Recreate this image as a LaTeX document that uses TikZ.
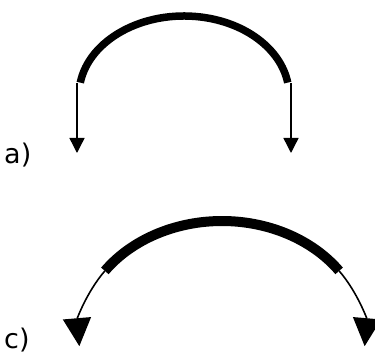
\documentclass[tikz,border=0pt]{standalone}
\usepackage{fontspec}
\setmainfont{DejaVu Sans}
\usetikzlibrary{arrows.meta,calc}
\newcommand{\lblfont}{\fontsize{27pt}{27pt}\selectfont}
\begin{document}
\begin{tikzpicture}[x=1pt,y=1pt,
  beam/.style={line width=7.5pt,line cap=butt},
  beamc/.style={line width=10pt,line cap=butt},
  thinarrow/.style={line width=1.4pt,-{Triangle[width=15pt,length=15pt]}},
  thinarrowc/.style={line width=1.6pt,-{Triangle[width=28pt,length=28pt]}},
  lbl/.style={anchor=base west,inner sep=0pt}]
\path[use as bounding box,fill=white] (0,0) rectangle (375,356);
% (a)
\coordinate (ac) at (184,261);
\draw[beam] ($(ac)+(171:105 and 79)$) coordinate (aL) arc[start angle=171,end angle=9,x radius=105,y radius=79] coordinate (aR);
\coordinate (aLt) at (77,273);
\coordinate (aLb) at (77,203);
\coordinate (aRt) at (291,273);
\coordinate (aRb) at (291,203);
\draw[thinarrow] (aLt) -- (aLb);
\draw[thinarrow] (aRt) -- (aRb);
\node[lbl] (la) at (4,192) {\lblfont a)};
% (c)
\coordinate (cc) at (222,18);
\draw[beamc] ($(cc)+(145:143 and 117)$) coordinate (cL) arc[start angle=145,end angle=35,x radius=143,y radius=117] coordinate (cR);
\draw[thinarrowc] (cL) arc[start angle=145,end angle=184,x radius=143,y radius=117];
\draw[thinarrowc] (cR) arc[start angle=35,end angle=-4,x radius=143,y radius=117];
\node[lbl] (lc) at (4,7.5) {\lblfont c)};
\end{tikzpicture}
\end{document}
